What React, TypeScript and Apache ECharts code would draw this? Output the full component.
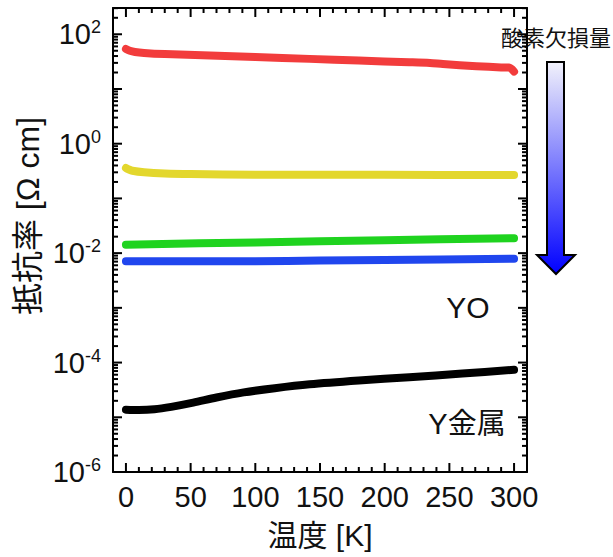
import React, { useEffect, useRef } from 'react';
import * as echarts from 'echarts';

const FONT = '"Liberation Sans", Arial, "Noto Sans CJK JP", sans-serif';

// Temperature [K] and resistivity [Ω cm]
const redT = [0, 3, 7, 14, 30, 65, 100, 142, 180, 219, 235, 245, 271, 290, 296, 300];
const redR = [54, 50, 47.5, 45.6, 43.5, 40.9, 38.5, 35.5, 33, 30.9, 29.9, 28.6, 26.1, 24.8, 24.6, 20.8];

const yellowT = [0, 2, 5, 14, 30, 50, 100, 200, 300];
const yellowR = [0.36, 0.34, 0.32, 0.3, 0.285, 0.278, 0.272, 0.27, 0.268];

const greenT = [0, 100, 200, 300];
const greenR = [0.0143, 0.0157, 0.0172, 0.0188];

const blueT = [0, 100, 150, 200, 300];
const blueR = [0.0071, 0.0071, 0.0073, 0.0075, 0.0079];

const blackT = [0, 10, 22, 35, 52, 70, 91, 115, 142, 180, 219, 260, 300];
const blackR = [1.38e-5, 1.36e-5, 1.4e-5, 1.55e-5, 1.85e-5, 2.3e-5, 2.85e-5, 3.4e-5, 4.0e-5, 4.7e-5, 5.4e-5, 6.3e-5, 7.4e-5];

const xMajor = [0, 50, 100, 150, 200, 250, 300];
const xMinor = [10, 20, 30, 40, 60, 70, 80, 90, 110, 120, 130, 140, 160, 170, 180, 190, 210, 220, 230, 240, 260, 270, 280, 290];
const yLabelExp = [-6, -4, -2, 0, 2];
const yDecades = [-6, -5, -4, -3, -2, -1, 0, 1, 2];

const X_MIN = -10;
const X_MAX = 310;
const Y_MIN = -6;
const Y_MAX = 2.48;

const yMinor: number[] = [];
for (let n = -6; n <= 2; n++) {
  for (let k = 2; k <= 9; k++) {
    const v = n + Math.log10(k);
    if (v <= Y_MAX) yMinor.push(v);
  }
}

const toData = (t: number[], r: number[]) => t.map((x, i) => [x, Math.log10(r[i])]);

const MAJOR_LEN = 9;
const MINOR_LEN = 5;
const TICK_W = 2;

export default function App() {
  const ref = useRef<HTMLDivElement>(null);
  useEffect(() => {
    if (!ref.current) return;
    const chart = echarts.init(ref.current, null, { renderer: 'svg' });
    const axisLine = () => ({ show: true, onZero: false, lineStyle: { color: '#000', width: 2 } });

    const lineSeries = (data: number[][], color: string) => ({
      type: 'line',
      data,
      xAxisIndex: 0,
      yAxisIndex: 0,
      showSymbol: false,
      smooth: 0.3,
      lineStyle: { color, width: 8, cap: 'round', join: 'round' },
      z: 5,
    });

    const tickSeries = (data: number[][], size: number[], offset: number[]) => ({
      type: 'scatter',
      data,
      xAxisIndex: 0,
      yAxisIndex: 0,
      symbol: 'rect',
      symbolSize: size,
      symbolOffset: offset,
      itemStyle: { color: '#000', opacity: 1 },
      clip: false,
      silent: true,
      z: 10,
    });

    chart.setOption({
      animation: false,
      backgroundColor: '#fff',
      grid: { left: 113, right: 86, top: 8, bottom: 85 },
      xAxis: [
        {
          type: 'value',
          min: X_MIN,
          max: X_MAX,
          position: 'bottom',
          axisLine: axisLine(),
          splitLine: { show: false },
          axisTick: { show: false },
          axisLabel: { show: true, customValues: xMajor, fontSize: 29, color: '#111', fontFamily: FONT, margin: 10 },
          name: '温度 [K]',
          nameLocation: 'middle',
          nameGap: 48,
          nameTextStyle: { fontSize: 30, fontFamily: FONT, color: '#111' },
        },
        {
          type: 'value',
          min: X_MIN,
          max: X_MAX,
          position: 'top',
          axisLine: axisLine(),
          splitLine: { show: false },
          axisTick: { show: false },
          axisLabel: { show: false },
        },
      ],
      yAxis: [
        {
          type: 'value',
          min: Y_MIN,
          max: Y_MAX,
          position: 'left',
          axisLine: axisLine(),
          splitLine: { show: false },
          axisTick: { show: false },
          axisLabel: {
            show: true,
            customValues: yLabelExp,
            margin: 12,
            formatter: (v: number) => `{b|10}{s|${Math.round(v)}}`,
            rich: {
              b: { fontSize: 29, fontFamily: FONT, color: '#111', lineHeight: 32 },
              s: { fontSize: 18, fontFamily: FONT, color: '#111', verticalAlign: 'top', lineHeight: 18 },
            },
          },
        },
        {
          type: 'value',
          min: Y_MIN,
          max: Y_MAX,
          position: 'right',
          axisLine: axisLine(),
          splitLine: { show: false },
          axisTick: { show: false },
          axisLabel: { show: false },
        },
      ],
      series: [
        lineSeries(toData(redT, redR), '#f23c3c'),
        lineSeries(toData(yellowT, yellowR), '#e3d72d'),
        lineSeries(toData(greenT, greenR), '#1fd31f'),
        lineSeries(toData(blueT, blueR), '#2046ee'),
        lineSeries(toData(blackT, blackR), '#000000'),
        // y ticks, left and right
        tickSeries(yDecades.map((v) => [X_MIN, v]), [MAJOR_LEN, TICK_W], [MAJOR_LEN / 2, 0]),
        tickSeries(yMinor.map((v) => [X_MIN, v]), [MINOR_LEN, TICK_W], [MINOR_LEN / 2, 0]),
        tickSeries(yDecades.map((v) => [X_MAX, v]), [MAJOR_LEN, TICK_W], [-MAJOR_LEN / 2, 0]),
        tickSeries(yMinor.map((v) => [X_MAX, v]), [MINOR_LEN, TICK_W], [-MINOR_LEN / 2, 0]),
        // x ticks, bottom and top
        tickSeries(xMajor.map((v) => [v, Y_MIN]), [TICK_W, MAJOR_LEN], [0, -MAJOR_LEN / 2]),
        tickSeries(xMinor.map((v) => [v, Y_MIN]), [TICK_W, MINOR_LEN], [0, -MINOR_LEN / 2]),
        tickSeries(xMajor.map((v) => [v, Y_MAX]), [TICK_W, MAJOR_LEN], [0, MAJOR_LEN / 2]),
        tickSeries(xMinor.map((v) => [v, Y_MAX]), [TICK_W, MINOR_LEN], [0, MINOR_LEN / 2]),
      ],
      graphic: [
        {
          type: 'text',
          x: 28,
          y: 216,
          rotation: Math.PI / 2,
          style: { text: '抵抗率 [Ω cm]', fontSize: 32, fontFamily: FONT, fill: '#111', align: 'center', verticalAlign: 'middle' },
        },
        {
          type: 'text',
          x: 556,
          y: 38,
          style: { text: '酸素欠損量', fontSize: 22, fontFamily: FONT, fill: '#111', align: 'center', verticalAlign: 'middle' },
        },
        {
          type: 'polygon',
          shape: {
            points: [
              [547, 62],
              [564, 62],
              [564, 255],
              [575, 255],
              [556, 274],
              [537, 255],
              [547, 255],
            ],
          },
          style: {
            fill: new echarts.graphic.LinearGradient(0, 0, 0, 1, [
              { offset: 0, color: '#f2f2fb' },
              { offset: 1, color: '#0000ff' },
            ]),
            stroke: '#000',
            lineWidth: 2,
          },
        },
        {
          type: 'text',
          x: 468,
          y: 307,
          style: { text: 'YO', fontSize: 30, fontFamily: FONT, fill: '#111', align: 'center', verticalAlign: 'middle' },
        },
        {
          type: 'text',
          x: 467,
          y: 424,
          style: { text: 'Y金属', fontSize: 29, fontFamily: FONT, fill: '#111', align: 'center', verticalAlign: 'middle' },
        },
      ],
    });
    return () => chart.dispose();
  }, []);
  return <div ref={ref} style={{ position: 'fixed', left: 0, top: 0, width: 613, height: 557 }} />;
}
